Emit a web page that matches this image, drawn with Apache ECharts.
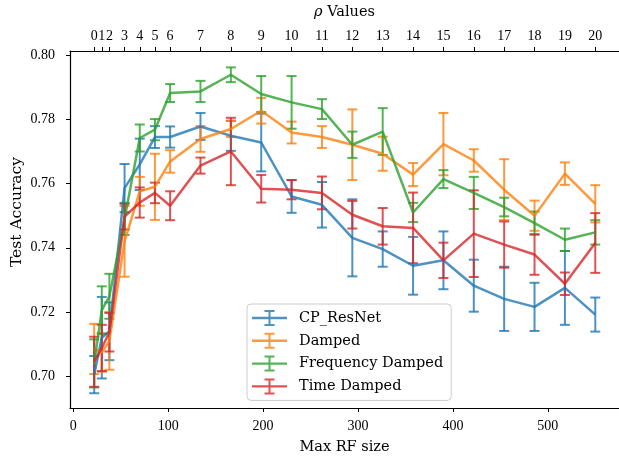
<!DOCTYPE html>
<html>
<head>
<meta charset="utf-8">
<script src="https://cdn.jsdelivr.net/npm/echarts@6/dist/echarts.min.js"></script>
<style>
  html, body { margin: 0; padding: 0; background: #fff; }
  #chart { width: 619px; height: 458px; }
</style>
</head>
<body>
<div id="chart"></div>
<script>
// max receptive field size for each rho value (top axis)
const rfSizes = [22, 30, 38, 54, 70, 86, 102, 134, 166, 198, 230, 262, 294, 326, 358, 390, 422, 454, 486, 518, 550];
const rhoLabels = ['0', '1', '2', '3', '4', '5', '6', '7', '8', '9', '10', '11', '12', '13', '14', '15', '16', '17', '18', '19', '20'];
const xTicks = [0, 100, 200, 300, 400, 500];
const yTicks = [0.70, 0.72, 0.74, 0.76, 0.78, 0.80];

const cpMean = [0.7005, 0.712, 0.714, 0.7586, 0.766, 0.7745, 0.7745, 0.7778, 0.7749, 0.7728, 0.7560, 0.7534, 0.7431, 0.7396, 0.7344, 0.7361, 0.7282, 0.7241, 0.7216, 0.7275, 0.7192];
const cpErr = [0.0058, 0.0127, 0.009, 0.0075, 0.008, 0.0034, 0.0033, 0.0042, 0.0047, 0.009, 0.0051, 0.0071, 0.012, 0.0055, 0.009, 0.009, 0.0081, 0.01, 0.0075, 0.0115, 0.0053];

const dampedMean = [0.7085, 0.7074, 0.711, 0.742, 0.7576, 0.759, 0.7669, 0.7739, 0.7770, 0.7827, 0.7759, 0.7745, 0.7721, 0.7693, 0.7628, 0.7723, 0.7672, 0.7581, 0.7500, 0.7631, 0.7537];
const dampedErr = [0.0078, 0.006, 0.009, 0.011, 0.0045, 0.0103, 0.0035, 0.004, 0.0025, 0.004, 0.0034, 0.0034, 0.011, 0.0053, 0.0036, 0.0097, 0.0035, 0.0095, 0.0047, 0.0035, 0.0058];

const freqMean = [0.704, 0.7206, 0.7249, 0.749, 0.7742, 0.7768, 0.7882, 0.7887, 0.7939, 0.7879, 0.7853, 0.7832, 0.7721, 0.7762, 0.7510, 0.7614, 0.7571, 0.7527, 0.7477, 0.7425, 0.7448];
const freqErr = [0.0075, 0.0074, 0.007, 0.005, 0.0042, 0.0033, 0.0028, 0.0033, 0.0023, 0.0056, 0.0082, 0.0031, 0.0041, 0.0073, 0.003, 0.0028, 0.005, 0.0029, 0.0036, 0.0035, 0.0038];

const timeMean = [0.7045, 0.7088, 0.7137, 0.7497, 0.7541, 0.7571, 0.7531, 0.7656, 0.7700, 0.7584, 0.7581, 0.7571, 0.7503, 0.7467, 0.7462, 0.7361, 0.7444, 0.7410, 0.7379, 0.7288, 0.7415];
const timeErr = [0.0078, 0.0072, 0.006, 0.004, 0.0047, 0.0032, 0.0045, 0.0025, 0.0105, 0.0043, 0.003, 0.0051, 0.0043, 0.0057, 0.011, 0.0055, 0.0135, 0.0072, 0.0063, 0.0035, 0.0093];

const SERIF = 'DejaVu Serif';
const TICK_FONT = 'Liberation Serif';
// horizontal line with an error bar, like the matplotlib legend handle
const errIcon = 'path://M0 6.8H35V9.2H0Z M16.5 0H18.5V16H16.5Z M12.5 0H22.5V2H12.5Z M12.5 14H22.5V16H12.5Z';

const groups = [
  { name: 'CP_ResNet', color: 'rgba(31,119,180,0.8)', mean: cpMean, err: cpErr },
  { name: 'Damped', color: 'rgba(255,127,14,0.8)', mean: dampedMean, err: dampedErr },
  { name: 'Frequency Damped', color: 'rgba(44,160,44,0.8)', mean: freqMean, err: freqErr },
  { name: 'Time Damped', color: 'rgba(214,39,40,0.8)', mean: timeMean, err: timeErr },
];

function renderErrorBar(params, api) {
  const x = api.value(0);
  const lo = api.coord([x, api.value(1)]);
  const hi = api.coord([x, api.value(2)]);
  const half = 5;
  const style = { stroke: api.visual('color'), lineWidth: 2, fill: null };
  return {
    type: 'group',
    children: [
      { type: 'line', shape: { x1: hi[0], y1: hi[1], x2: lo[0], y2: lo[1] }, style },
      { type: 'line', shape: { x1: hi[0] - half, y1: hi[1], x2: hi[0] + half, y2: hi[1] }, style },
      { type: 'line', shape: { x1: lo[0] - half, y1: lo[1], x2: lo[0] + half, y2: lo[1] }, style },
    ],
  };
}

const series = [];
groups.forEach((g) => {
  series.push({
    name: g.name,
    type: 'line',
    data: rfSizes.map((x, i) => [x, g.mean[i]]),
    showSymbol: false,
    symbol: 'none',
    color: g.color,
    lineStyle: { width: 2.5, color: g.color },
    animation: false,
  });
  series.push({
    name: g.name,
    type: 'custom',
    data: rfSizes.map((x, i) => [x, g.mean[i] - g.err[i], g.mean[i] + g.err[i]]),
    encode: { x: 0, y: [1, 2] },
    itemStyle: { color: g.color },
    renderItem: renderErrorBar,
    animation: false,
  });
});

const axisLine = { show: true, onZero: false, lineStyle: { color: '#000', width: 1.2 } };
const tick = { show: true, length: 4, lineStyle: { color: '#000', width: 1 } };
const tickLabel = { fontFamily: TICK_FONT, fontSize: 14, color: '#000' };

const chart = echarts.init(document.getElementById('chart'));
chart.setOption({
  animation: false,
  grid: { left: 70, right: 0, top: 51, bottom: 50, outerBoundsMode: 'none' },
  // y axis title sits a little above the axis centre in the original
  graphic: [{
    type: 'text',
    x: 17,
    y: 212,
    rotation: Math.PI / 2,
    style: {
      text: 'Test Accuracy',
      align: 'center',
      verticalAlign: 'middle',
      fontFamily: SERIF,
      fontSize: 15.5,
      fill: '#000',
    },
  }],
  xAxis: [
    {
      type: 'value',
      min: -3.5,
      max: 575,
      position: 'bottom',
      name: 'Max RF size',
      nameLocation: 'middle',
      nameGap: 32,
      nameTextStyle: { fontFamily: SERIF, fontSize: 14.5, color: '#000' },
      axisLine,
      axisTick: { ...tick, customValues: xTicks },
      axisLabel: { ...tickLabel, customValues: xTicks, margin: 11 },
      splitLine: { show: false },
    },
    {
      type: 'value',
      min: -3.5,
      max: 575,
      position: 'top',
      name: '{i|ρ} Values',
      nameLocation: 'middle',
      nameGap: 31,
      nameTextStyle: {
        fontFamily: SERIF, fontSize: 14.5, color: '#000',
        rich: { i: { fontFamily: SERIF, fontSize: 14.5, fontStyle: 'italic', color: '#000' } },
      },
      axisLine,
      axisTick: { ...tick, customValues: rfSizes },
      axisLabel: {
        ...tickLabel,
        customValues: rfSizes,
        showMinLabel: true,
        showMaxLabel: true,
        hideOverlap: false,
        margin: 8,
        formatter: (v) => rhoLabels[rfSizes.indexOf(v)],
      },
      splitLine: { show: false },
    },
  ],
  yAxis: {
    type: 'value',
    min: 0.6901,
    max: 0.8013,
    axisLine,
    axisTick: { ...tick, customValues: yTicks },
    axisLabel: {
      ...tickLabel,
      customValues: yTicks,
      margin: 15,
      formatter: (v) => v.toFixed(2),
    },
    splitLine: { show: false },
  },
  legend: {
    data: groups.map((g) => ({ name: g.name, icon: errIcon })),
    orient: 'vertical',
    left: 247,
    top: 304,
    itemWidth: 35,
    itemHeight: 16,
    itemGap: 6.8,
    padding: [6, 8, 6, 5],
    textStyle: { fontFamily: SERIF, fontSize: 14.5, color: '#000', padding: [0, 0, 0, 7] },
    backgroundColor: 'rgba(255,255,255,0.8)',
    borderColor: '#cccccc',
    borderWidth: 1,
    borderRadius: 4,
  },
  series,
});
</script>
</body>
</html>
